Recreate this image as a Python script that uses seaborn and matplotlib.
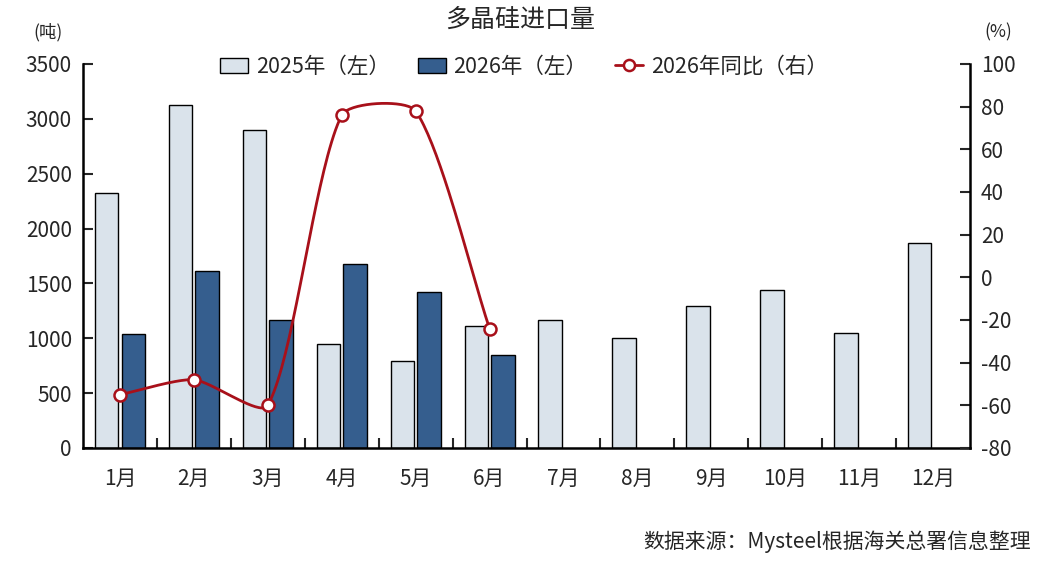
import numpy as np
import pandas as pd
import matplotlib
matplotlib.use("Agg")
import matplotlib.pyplot as plt
from matplotlib.patches import Patch
from matplotlib.lines import Line2D
import seaborn as sns

# ---- data ----
months = ["1月", "2月", "3月", "4月", "5月", "6月", "7月", "8月", "9月", "10月", "11月", "12月"]
imports_2025 = [2320, 3130, 2900, 950, 790, 1110, 1170, 1000, 1290, 1440, 1050, 1870]
imports_2026 = [1040, 1610, 1170, 1680, 1420, 850]
yoy_2026 = [-55, -48, -60, 76, 78, -24]
series_names = ["2025年（左）", "2026年（左）", "2026年同比（右）"]
title = "多晶硅进口量"
source = "数据来源：Mysteel根据海关总署信息整理"

# ---- style ----
sns.set_theme(style="white")
plt.rcParams["font.family"] = ["Noto Sans CJK SC", "DejaVu Sans"]
plt.rcParams["axes.unicode_minus"] = False

c_light = "#DAE3EB"
c_dark = "#355E8E"
c_red = "#A8101A"

df = pd.DataFrame({
    "month": months * 1 + months[:len(imports_2026)],
    "value": imports_2025 + imports_2026,
    "series": [series_names[0]] * len(imports_2025) + [series_names[1]] * len(imports_2026),
})

fig = plt.figure(figsize=(10.38, 5.61), dpi=100)
ax = fig.add_axes([83 / 1038, 1 - 448 / 561, (970 - 83) / 1038, (448 - 64) / 561])

sns.barplot(data=df, x="month", y="value", hue="series", order=months,
            hue_order=series_names[:2], palette=[c_light, c_dark],
            width=0.72, gap=0.12, edgecolor="black", linewidth=1.0,
            legend=False, ax=ax, errorbar=None, saturation=1)

ax.set_xlim(-0.5, len(months) - 0.5)
ax.set_ylim(0, 3500)
ax.set_yticks(np.arange(0, 3501, 500))
ax.set_xlabel("")
ax.set_ylabel("")

# right axis
ax2 = ax.twinx()
ax2.set_ylim(-80, 100)
ax2.set_yticks(np.arange(-80, 101, 20))

# smoothed line (Bezier through the data points, computed in screen-like units)
xs = np.arange(len(yoy_2026), dtype=float)
ys = np.array(yoy_2026, dtype=float)
ky = (384 / 180) / 74.0  # convert percent to x-units
P = np.column_stack([xs, ys * ky])
n = len(P)
f = 0.23
curve = []
for i in range(n - 1):
    p0, p1 = P[i], P[i + 1]
    d_i = np.linalg.norm(p1 - p0)
    if i == 0:
        c1 = p0 + f * (p1 - p0)
    else:
        d_prev = np.linalg.norm(p0 - P[i - 1])
        c1 = p0 + f * (p1 - P[i - 1]) * d_i / (d_prev + d_i)
    if i + 1 == n - 1:
        c2 = p1 - f * (p1 - p0)
    else:
        d_next = np.linalg.norm(P[i + 2] - p1)
        c2 = p1 - f * (P[i + 2] - p0) * d_i / (d_i + d_next)
    t = np.linspace(0, 1, 40)[:, None]
    seg = ((1 - t) ** 3) * p0 + 3 * ((1 - t) ** 2) * t * c1 + 3 * (1 - t) * t ** 2 * c2 + t ** 3 * p1
    curve.append(seg if i == 0 else seg[1:])
curve = np.vstack(curve)
ax2.plot(curve[:, 0], curve[:, 1] / ky, color=c_red, lw=2.0, zorder=3)
sns.scatterplot(x=xs, y=ys, ax=ax2, marker="o", s=75, facecolor="white",
                edgecolor=c_red, linewidth=1.8, zorder=4, legend=False)

# spines and ticks
for a in (ax, ax2):
    a.spines["top"].set_visible(False)
    for s in ("left", "right", "bottom"):
        a.spines[s].set_linewidth(1.8)
        a.spines[s].set_color("black")
ax.spines["right"].set_visible(False)
ax2.spines["left"].set_visible(False)
ax2.spines["bottom"].set_visible(False)

ax.tick_params(axis="y", direction="in", length=7, width=1.5, labelsize=15, pad=8, left=True)
ax2.tick_params(axis="y", direction="in", length=7, width=1.5, labelsize=15, pad=8, right=True)
ax.tick_params(axis="x", which="major", length=0, labelsize=15, pad=14)
ax.set_xticks(np.arange(0.5, len(months) - 1, 1.0), minor=True)
ax.tick_params(axis="x", which="minor", direction="in", length=7, width=1.5, bottom=True)

# legend
handles = [
    Patch(facecolor=c_light, edgecolor="black", linewidth=1.0),
    Patch(facecolor=c_dark, edgecolor="black", linewidth=1.0),
    Line2D([0], [0], color=c_red, lw=2.0, marker="o", markersize=8,
           markerfacecolor="white", markeredgecolor=c_red, markeredgewidth=1.8),
]
fig.legend(handles, series_names, loc="center", bbox_to_anchor=(524 / 1038, 1 - 67 / 561),
           ncol=3, frameon=False, fontsize=15.5, handlelength=1.3, handleheight=0.7,
           handletextpad=0.35, columnspacing=1.3)

# texts
fig.text(520 / 1038, 1 - 20 / 561, title, ha="center", va="center", fontsize=18)
fig.text(48 / 1038, 1 - 32 / 561, "(吨)", ha="center", va="center", fontsize=12.5)
fig.text(998 / 1038, 1 - 32 / 561, "(%)", ha="center", va="center", fontsize=12.5)
fig.text(1031 / 1038, 1 - 542 / 561, source, ha="right", va="center", fontsize=15)

fig.savefig("out.png", dpi=100)
